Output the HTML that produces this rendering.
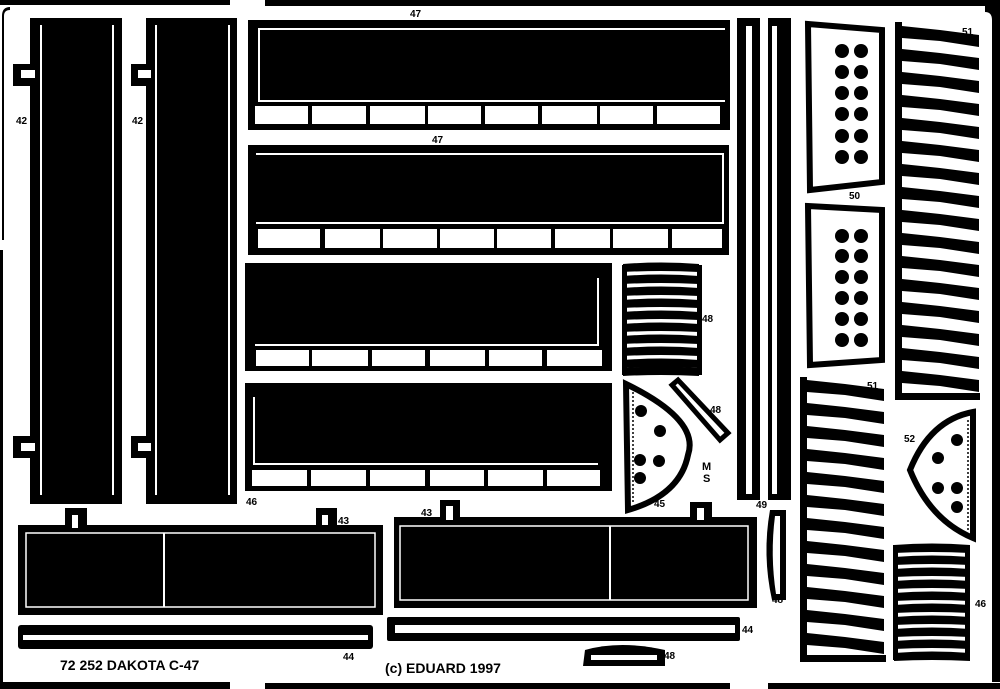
<!DOCTYPE html>
<html><head><meta charset="utf-8"><style>
html,body{margin:0;padding:0;background:#fff;}
svg{display:block;}
text{font-family:"Liberation Sans",sans-serif;font-weight:bold;fill:#000;}
</style></head><body>
<svg width="1000" height="689" viewBox="0 0 1000 689" xmlns="http://www.w3.org/2000/svg">
<defs>
<path id="t51" d="M902,0 L940,4 L979,9 L979,21 L940,15 L902,12 Z"/>
<path id="bar" d="M0,0 Q38,-3 76,0 L76,8 Q38,6 0,8 Z"/>
</defs>
<!-- frame -->
<rect x="0" y="0" width="230" height="5"/>
<rect x="265" y="0" width="735" height="6"/>
<path d="M1000,6 L1000,682 L992,682 L992,20 Q992,12 985,12 L985,6 Z"/>
<path d="M10,7 Q2,7 2,16 L2,240 L4,240 L4,16 Q4,10 10,10 Z"/>
<path d="M0,250 L3,250 L3,690 L0,690 Z"/>
<rect x="0" y="682" width="230" height="7"/>
<rect x="265" y="683" width="465" height="6"/>
<rect x="768" y="683" width="232" height="6"/>

<!-- 42 strips -->
<rect x="30" y="18" width="92" height="486"/>
<rect x="40" y="25" width="2" height="470" fill="#fff"/>
<rect x="112" y="25" width="2" height="470" fill="#fff"/>
<rect x="13" y="64" width="22" height="22"/><rect x="21" y="70" width="14" height="8" fill="#fff"/>
<rect x="13" y="436" width="22" height="22"/><rect x="21" y="443" width="14" height="8" fill="#fff"/>
<rect x="146" y="18" width="91" height="486"/>
<rect x="155" y="25" width="2" height="470" fill="#fff"/>
<rect x="228" y="25" width="2" height="470" fill="#fff"/>
<rect x="131" y="64" width="20" height="22"/><rect x="138" y="70" width="13" height="8" fill="#fff"/>
<rect x="131" y="436" width="20" height="22"/><rect x="138" y="443" width="13" height="8" fill="#fff"/>

<!-- 47 panel 1 -->
<rect x="248" y="20" width="482" height="110"/>
<rect x="258" y="28" width="467" height="2" fill="#fff"/>
<rect x="258" y="28" width="2" height="74" fill="#fff"/>
<rect x="258" y="100" width="467" height="2" fill="#fff"/>
<g fill="#fff">
<rect x="255" y="106" width="53" height="18"/><rect x="312" y="106" width="54" height="18"/><rect x="370" y="106" width="55" height="18"/><rect x="428" y="106" width="53" height="18"/><rect x="485" y="106" width="53" height="18"/><rect x="542" y="106" width="55" height="18"/><rect x="600" y="106" width="53" height="18"/><rect x="657" y="106" width="63" height="18"/>
</g>
<!-- panel 2 -->
<rect x="248" y="145" width="481" height="110"/>
<rect x="256" y="153" width="467" height="2" fill="#fff"/>
<rect x="722" y="153" width="2" height="70" fill="#fff"/>
<rect x="256" y="222" width="468" height="2" fill="#fff"/>
<g fill="#fff">
<rect x="258" y="229" width="62" height="19"/><rect x="325" y="229" width="55" height="19"/><rect x="383" y="229" width="54" height="19"/><rect x="440" y="229" width="54" height="19"/><rect x="497" y="229" width="54" height="19"/><rect x="555" y="229" width="55" height="19"/><rect x="613" y="229" width="55" height="19"/><rect x="672" y="229" width="50" height="19"/>
</g>
<!-- panel 3 -->
<rect x="245" y="263" width="367" height="108"/>
<rect x="597" y="278" width="2" height="68" fill="#fff"/>
<rect x="255" y="344" width="344" height="2" fill="#fff"/>
<g fill="#fff">
<rect x="256" y="350" width="53" height="16"/><rect x="312" y="350" width="56" height="16"/><rect x="372" y="350" width="53" height="16"/><rect x="430" y="350" width="55" height="16"/><rect x="489" y="350" width="53" height="16"/><rect x="547" y="350" width="55" height="16"/>
</g>
<!-- panel 4 -->
<rect x="245" y="383" width="367" height="108"/>
<rect x="253" y="397" width="2" height="68" fill="#fff"/>
<rect x="253" y="463" width="345" height="2" fill="#fff"/>
<g fill="#fff">
<rect x="252" y="470" width="55" height="16"/><rect x="311" y="470" width="55" height="16"/><rect x="370" y="470" width="55" height="16"/><rect x="430" y="470" width="54" height="16"/><rect x="488" y="470" width="55" height="16"/><rect x="547" y="470" width="53" height="16"/>
</g>

<!-- 43 bottom left -->
<rect x="18" y="525" width="365" height="90"/>
<rect x="26" y="533" width="349" height="74" fill="none" stroke="#fff" stroke-width="1.5"/>
<rect x="163" y="533" width="2" height="74" fill="#fff"/>
<rect x="65" y="508" width="22" height="20"/><rect x="72" y="515" width="6" height="13" fill="#fff"/>
<rect x="316" y="508" width="21" height="20"/><rect x="322" y="515" width="6" height="10" fill="#fff"/>
<!-- 44 strip left -->
<rect x="18" y="625" width="355" height="24" rx="3"/>
<rect x="23" y="635" width="345" height="5" fill="#fff"/>

<!-- bottom middle -->
<rect x="394" y="517" width="363" height="91"/>
<rect x="400" y="526" width="348" height="74" fill="none" stroke="#fff" stroke-width="1.5"/>
<rect x="609" y="526" width="2" height="74" fill="#fff"/>
<rect x="440" y="500" width="20" height="20"/><rect x="446" y="506" width="7" height="14" fill="#fff"/>
<rect x="690" y="502" width="22" height="18"/><rect x="697" y="508" width="7" height="12" fill="#fff"/>
<rect x="387" y="617" width="353" height="24" rx="2"/>
<rect x="395" y="625" width="340" height="8" fill="#fff"/>
<!-- 48 small -->
<path d="M585,650 Q620,640 665,650 L665,666 L583,666 Z"/>
<rect x="591" y="655" width="66" height="5" fill="#fff"/>

<!-- 49 vertical strips -->
<rect x="737" y="18" width="23" height="482"/>
<rect x="746" y="26" width="6" height="468" fill="#fff"/>
<rect x="768" y="18" width="23" height="482"/>
<rect x="772" y="26" width="5" height="468" fill="#fff"/>
<!-- 48 bent -->
<path d="M770,510 L786,510 L786,600 L772,600 Q762,555 770,510 Z"/>
<path d="M775,516 L780,516 L780,594 L776,594 Q770,555 775,516 Z" fill="#fff"/>

<!-- 50 hole panels -->
<path d="M808,24 L882,30 L882,182 L810,190 Z" fill="none" stroke="#000" stroke-width="6"/>
<path d="M808,206 L882,210 L882,360 L810,365 Z" fill="none" stroke="#000" stroke-width="6"/>
<g>
<circle cx="842" cy="51" r="7"/><circle cx="861" cy="51" r="7"/>
<circle cx="842" cy="72" r="7"/><circle cx="861" cy="72" r="7"/>
<circle cx="842" cy="93" r="7"/><circle cx="861" cy="93" r="7"/>
<circle cx="842" cy="114" r="7"/><circle cx="861" cy="114" r="7"/>
<circle cx="842" cy="136" r="7"/><circle cx="861" cy="136" r="7"/>
<circle cx="842" cy="157" r="7"/><circle cx="861" cy="157" r="7"/>
<circle cx="842" cy="236" r="7"/><circle cx="861" cy="236" r="7"/>
<circle cx="842" cy="256" r="7"/><circle cx="861" cy="256" r="7"/>
<circle cx="842" cy="277" r="7"/><circle cx="861" cy="277" r="7"/>
<circle cx="842" cy="298" r="7"/><circle cx="861" cy="298" r="7"/>
<circle cx="842" cy="319" r="7"/><circle cx="861" cy="319" r="7"/>
<circle cx="842" cy="340" r="7"/><circle cx="861" cy="340" r="7"/>
</g>

<!-- 51 comb right -->
<rect x="895" y="22" width="7" height="378"/>
<rect x="895" y="393" width="85" height="7"/>
<g>
<use href="#t51" y="26"/><use href="#t51" y="49"/><use href="#t51" y="72"/><use href="#t51" y="95"/><use href="#t51" y="118"/><use href="#t51" y="141"/><use href="#t51" y="164"/><use href="#t51" y="187"/><use href="#t51" y="210"/><use href="#t51" y="233"/><use href="#t51" y="256"/><use href="#t51" y="279"/><use href="#t51" y="302"/><use href="#t51" y="325"/><use href="#t51" y="348"/><use href="#t51" y="371"/>
</g>
<!-- 51 comb left -->
<rect x="800" y="377" width="7" height="285"/>
<rect x="800" y="655" width="86" height="7"/>
<g transform="translate(-95,0)">
<use href="#t51" y="380"/><use href="#t51" y="403"/><use href="#t51" y="426"/><use href="#t51" y="449"/><use href="#t51" y="472"/><use href="#t51" y="495"/><use href="#t51" y="518"/><use href="#t51" y="541"/><use href="#t51" y="564"/><use href="#t51" y="587"/><use href="#t51" y="610"/><use href="#t51" y="633"/>
</g>

<!-- 46 comb bottom right -->
<rect x="893" y="545" width="5" height="115"/>
<rect x="965" y="545" width="5" height="115"/>
<g transform="translate(894,0)">
<use href="#bar" y="545"/><use href="#bar" y="557"/><use href="#bar" y="569"/><use href="#bar" y="581"/><use href="#bar" y="593"/><use href="#bar" y="605"/><use href="#bar" y="617"/><use href="#bar" y="629"/><use href="#bar" y="641"/><use href="#bar" y="653"/>
</g>
<!-- 48 comb -->
<rect x="622" y="265" width="5" height="110"/>
<rect x="697" y="265" width="5" height="110"/>
<g transform="translate(623,0)">
<use href="#bar" y="264"/><use href="#bar" y="276"/><use href="#bar" y="288"/><use href="#bar" y="300"/><use href="#bar" y="312"/><use href="#bar" y="324"/><use href="#bar" y="336"/><use href="#bar" y="348"/><use href="#bar" y="360"/><use href="#bar" y="368"/>
</g>

<!-- 45 D shape -->
<path d="M626,384 Q700,420 688,455 Q680,495 628,510 Z" fill="none" stroke="#000" stroke-width="6"/>
<line x1="633" y1="392" x2="633" y2="502" stroke="#000" stroke-width="1.5" stroke-dasharray="2 2"/>
<circle cx="641" cy="411" r="6"/><circle cx="660" cy="431" r="6"/><circle cx="640" cy="460" r="6"/><circle cx="659" cy="461" r="6"/><circle cx="640" cy="478" r="6"/>
<!-- 48 slanted -->
<path d="M672,385 L678,380 L728,433 L720,440 Z" fill="none" stroke="#000" stroke-width="5"/>
<!-- 52 D shape -->
<path d="M973,412 Q930,420 910,470 Q930,520 973,538 Z" fill="none" stroke="#000" stroke-width="6"/>
<line x1="968" y1="420" x2="968" y2="530" stroke="#000" stroke-width="1.5" stroke-dasharray="2 2"/>
<circle cx="957" cy="440" r="6"/><circle cx="938" cy="458" r="6"/><circle cx="938" cy="488" r="6"/><circle cx="957" cy="488" r="6"/><circle cx="957" cy="507" r="6"/>

<!-- labels -->
<g font-size="10">
<text x="16" y="124">42</text><text x="132" y="124">42</text>
<text x="410" y="17">47</text><text x="432" y="143">47</text>
<text x="246" y="505">46</text>
<text x="338" y="524">43</text><text x="421" y="516">43</text>
<text x="343" y="660">44</text><text x="742" y="633">44</text>
<text x="664" y="659">48</text><text x="702" y="322">48</text><text x="710" y="413">48</text>
<text x="654" y="507">45</text><text x="756" y="508">49</text><text x="772" y="603">48</text>
<text x="849" y="199">50</text><text x="962" y="35">51</text><text x="867" y="389">51</text>
<text x="904" y="442">52</text><text x="975" y="607">46</text>
<text x="702" y="470" font-size="11">M</text><text x="703" y="482" font-size="11">S</text>
</g>
<text x="60" y="670" font-size="14">72 252 DAKOTA C-47</text>
<text x="385" y="673" font-size="14">(c) EDUARD 1997</text>
</svg>
</body></html>
